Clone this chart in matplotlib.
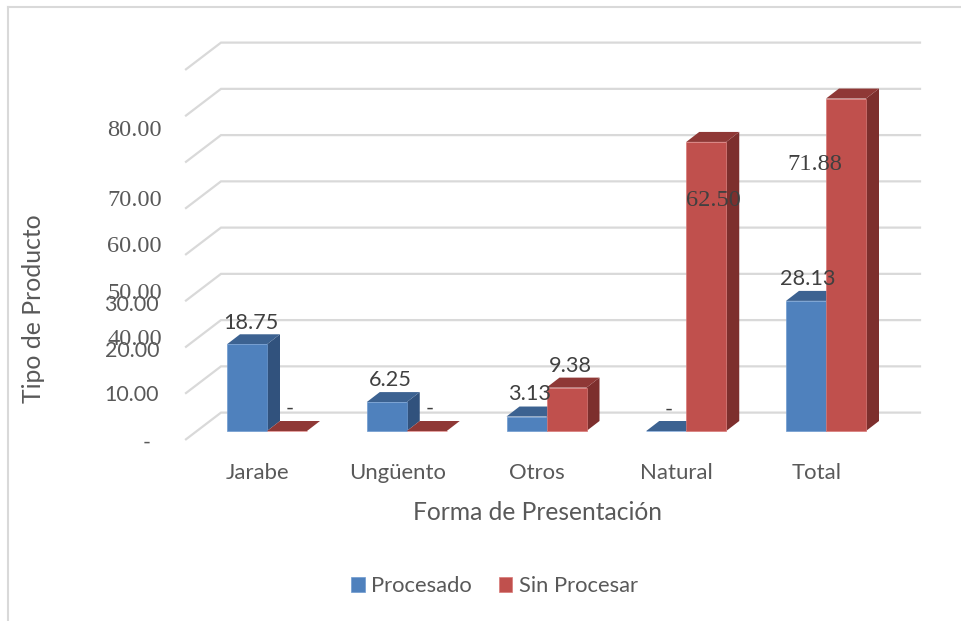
import matplotlib
matplotlib.use("Agg")
import matplotlib.pyplot as plt
from matplotlib.lines import Line2D

categories = ["Jarabe", "Ungüento", "Otros", "Natural", "Total"]
procesado = [18.75, 6.25, 3.13, 0.0, 28.13]
sin_procesar = [0.0, 0.0, 9.38, 62.50, 71.88]
series_names = ["Procesado", "Sin Procesar"]
grid_values = [0, 10, 20, 30, 40, 50, 60, 70, 80]
tick_labels = ["-", "10.00", "20.00", "30.00", "40.00", "50.00", "60.00", "70.00", "80.00"]

W, H = 961, 621
X0, DX = 267.0, 139.75      # pixel of category 0 boundary, pixels per category
Y0, DY = 431.0, 4.625       # pixel of value 0, pixels per unit

fig = plt.figure(figsize=(W / 100, H / 100), dpi=100, facecolor="white")
ax = fig.add_axes([0, 0, 1, 1])
ax.set_xlim(-X0 / DX, (W - X0) / DX)
ax.set_ylim((Y0 - H) / DY, Y0 / DY)
ax.axis("off")

SANS = "Lato"
SERIF = "Liberation Serif"
GREY = "#595959"
DARK = "#404040"
GRIDC = "#d9d9d9"


def fx(px):
    return (px - X0) / DX


def fy(py):
    return (Y0 - py) / DY


# chart frame
for xs, ys in (((8, 8), (7, H)), ((8, W), (7, 7))):
    ax.add_line(Line2D([fx(x) for x in xs], [fy(y) for y in ys], color=GRIDC, lw=1.5, zorder=1))

# gridlines: floor/wall fold at each value
for v in grid_values:
    ax.plot([fx(186), fx(221), fx(920)],
            [v + fy(439.3), v + fy(412.6), v + fy(412.6)],
            color=GRIDC, lw=1.6, zorder=1, solid_joinstyle="miter")

BW = 40.0 / DX
DEPX = 13.0 / DX
DEPY = 10.0 / DY
BLUE = ("#4f81bd", "#3c6291", "#31527d", "#6f9ad0")
RED = ("#c0504d", "#8f3836", "#7d2f2d", "#d87a78")


def column(left, value, colors, z):
    front, top, side, edge = colors
    if value > 0:
        ax.fill([left + BW, left + BW + DEPX, left + BW + DEPX, left + BW],
                [0, DEPY, value + DEPY, value], color=side, lw=0, zorder=z)
    ax.fill([left, left + DEPX, left + BW + DEPX, left + BW],
            [value, value + DEPY, value + DEPY, value], color=top, lw=0, zorder=z)
    return ax.bar(left, value, width=BW, align="edge", color=front, edgecolor=edge,
                  linewidth=0.5, zorder=z + 0.5)


h1 = h2 = None
for i, (a, b) in enumerate(zip(procesado, sin_procesar)):
    r1 = column(i - BW, a, BLUE, 3 + i)
    r2 = column(i, b, RED, 3.7 + i)
    h1, h2 = r1, r2

# value-axis labels as they sit in the picture
tick_px = [(151, 443, SANS), (159, 395, SANS), (159, 351, SANS), (159, 305, SANS),
           (162, 340, SERIF), (162, 294, SERIF), (162, 247, SERIF), (162, 201, SERIF),
           (162, 131, SERIF)]
for lab, (x, y, fam) in zip(tick_labels, tick_px):
    ax.text(fx(x), fy(y), lab, ha="right", va="center", color=GREY,
            family=fam, fontsize=15.4 if fam == SANS else 17.6, zorder=20)

# data labels
lab_px_a = [(251, 323, SANS), (390, 380, SANS), (530, 394, SANS), (669, 410, SANS), (808, 279, SANS)]
lab_px_b = [(290, 409, SANS), (430, 409, SANS), (570, 366, SANS), (713, 201, SERIF), (815, 165, SERIF)]
for vals, pos in ((procesado, lab_px_a), (sin_procesar, lab_px_b)):
    for v, (x, y, fam) in zip(vals, pos):
        ax.text(fx(x), fy(y), f"{v:.2f}" if v else "-", ha="center", va="center", color=DARK,
                family=fam, fontsize=15.6 if fam == SANS else 17.6, zorder=30)

# category labels
for i, c in enumerate(categories):
    ax.text(i - 9.5 / DX, fy(473), c, ha="center", va="center", color=GREY, family=SANS, fontsize=15.9)

ax.text(fx(537.5), fy(513), "Forma de Presentación", ha="center", va="center",
        color=GREY, family=SANS, fontsize=17.7)
ax.text(fx(34), fy(309), "Tipo de Producto", ha="center", va="center", rotation=90,
        color=GREY, family=SANS, fontsize=17.8)

leg = ax.legend([h1, h2], series_names, loc="center", bbox_to_anchor=(494.5 / W, 1 - 586 / H),
                bbox_transform=fig.transFigure, ncol=2, frameon=False,
                prop={"family": SANS, "size": 15.8}, labelcolor=GREY,
                handlelength=0.62, handleheight=0.7, handletextpad=0.3, columnspacing=1.2)

fig.savefig("out.png", dpi=100, facecolor="white")
